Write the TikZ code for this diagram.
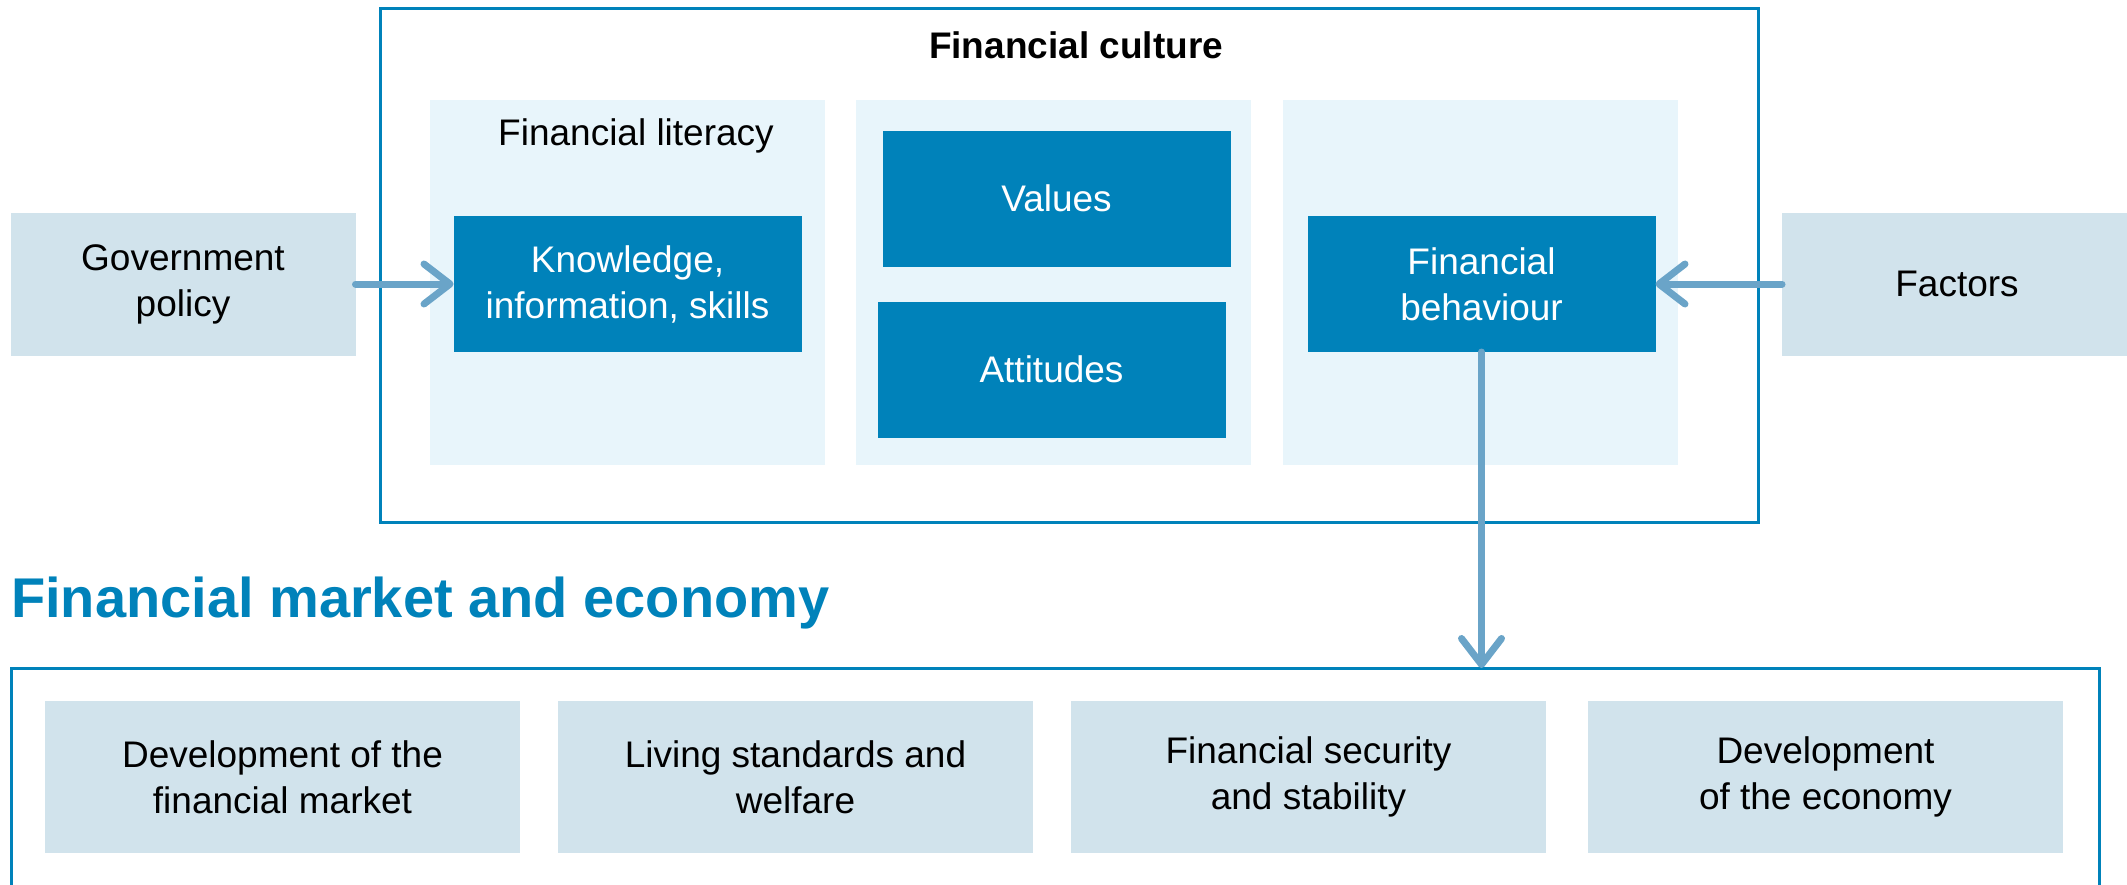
\documentclass[tikz,border=0pt]{standalone}
\usepackage{fontspec}
\setmainfont{Liberation Sans}
\usepackage{tikz}
\usetikzlibrary {arrows.meta,
                 positioning}
\definecolor{fcblue}{HTML}{0082BA}
\definecolor{fcpanel}{HTML}{E8F5FB}
\definecolor{fcgrey}{HTML}{D1E3EC}
\definecolor{fcarrow}{HTML}{6AA4C8}
\tikzset{
        base/.style={align=center, inner sep=0pt, outer sep=0pt,
                     font=\fontsize{37pt}{46pt}\selectfont},
        panel/.style={base, fill=fcpanel, minimum width=395pt, minimum height=365pt},
        inner/.style={base, fill=fcblue, text=white, minimum width=348pt,
                      minimum height=136pt},
        outside/.style={base, fill=fcgrey, minimum width=345pt, minimum height=143pt},
        result/.style={base, fill=fcgrey, minimum width=475pt, minimum height=152pt},
        frame/.style={draw=fcblue, line width=3pt, inner sep=0pt, outer sep=0pt},
        myarrow/.style={-{Straight Barb[length=26pt, width=40pt, round]},
                        draw=fcarrow, line width=7pt, line cap=round},
 }

\begin{document}
\begin{tikzpicture}[x=1pt, y=-1pt]
    \useasboundingbox (0,0) rectangle (2127,884);
    \clip (0,0) rectangle (2127,884);

    % financial culture
    \node[frame, minimum width=1378pt, minimum height=514pt] (culture) at (1069,265) {};
    \node[base, font=\bfseries\fontsize{37pt}{46pt}\selectfont] (title) at (1076,45) {Financial culture};
    \node[panel] (lit) at (627.5,282.5) {};
    \node[panel, right=31pt of lit] (mid) {};
    \node[panel, right=32pt of mid] (beh) {};
    \node[base, anchor=base] (littitle) at (636,145) {Financial literacy};
    \node[inner] (know) at (627.5,284) {Knowledge,\\information, skills};
    \node[inner] (val) at (1056.5,198.5) {Values};
    \node[inner] (att) at (1051.5,369.5) {Attitudes};
    \node[inner] (behav) at (1481.5,284) {Financial\\behaviour};

    \node[outside] (gov) at (183,284) {Government\\policy};
    \node[outside, minimum width=350pt] (fact) at (1957,284) {Factors};

    % financial market and economy
    \node[base, anchor=base west, text=fcblue,
          font=\bfseries\fontsize{56pt}{60pt}\selectfont] (econtitle) at (11,617) {Financial market and economy};
    \node[frame, minimum width=2088pt, minimum height=300pt, anchor=north west] (econ) at (11,668) {};
    \node[result] (r1) at (282.5,777) {Development of the\\financial market};
    \node[result, right=38pt of r1] (r2) {Living standards and\\welfare};
    \node[result, right=38pt of r2] (r3) {Financial security\\and stability};
    \node[result, right=42pt of r3] (r4) {Development\\of the economy};

    \draw[myarrow] (gov) -- (know);
    \draw[myarrow] (fact) -- (behav);
    \draw[myarrow] (behav) -- (behav |- econ.north);
\end{tikzpicture}
\end{document}
